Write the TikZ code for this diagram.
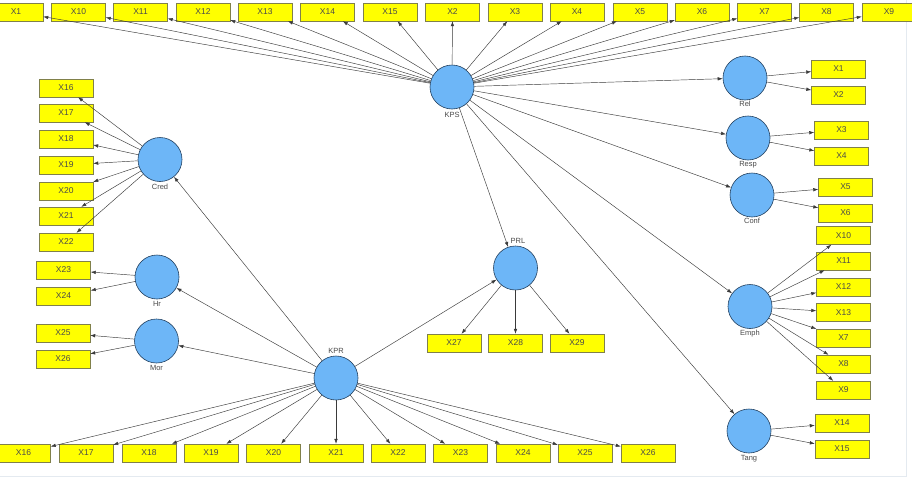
\documentclass[tikz,border=0pt]{standalone}
\usepackage{fontspec}
\setmainfont{Liberation Sans}
\usetikzlibrary{arrows.meta}
\definecolor{boxfill}{HTML}{FFFF00}
\definecolor{boxline}{HTML}{80804A}
\definecolor{circfill}{HTML}{6DB6F7}
\definecolor{circline}{HTML}{23405F}
\definecolor{txt}{HTML}{4A4A4A}
\definecolor{edge}{HTML}{3A3A3A}
\definecolor{frameline}{HTML}{E4EAF0}
\begin{document}
\begin{tikzpicture}[x=1pt,y=-1pt,
 ind/.style={draw=boxline, fill=boxfill, minimum width=54pt, minimum height=18pt, inner sep=0pt, font=\fontsize{8.5}{10}\selectfont, text=txt},
 lat/.style={circle, draw=circline, fill=circfill, minimum size=44pt, inner sep=0pt, line width=0.6pt},
 lab/.style={font=\fontsize{7.5}{9}\selectfont, text=txt, inner sep=0pt},
 arr/.style={draw=edge, line width=0.45pt, -{Latex[length=5pt,width=3.5pt]}}]
\useasboundingbox (0,0) rectangle (912,479);
\fill[white] (0,0) rectangle (912,479);
\draw[frameline, line width=0.8pt] (0,476) -- (906,476) -- (906,0);

% latent variables
\node[lat] (kps) at (452,87) {};
\node[lab] (kpsl) at (452,115) {KPS};
\node[lat] (rel) at (745,78) {};
\node[lab] (rell) at (745,104) {Rel};
\node[lat] (resp) at (748,138) {};
\node[lab] (respl) at (748,165) {Resp};
\node[lat] (conf) at (752,195) {};
\node[lab] (confl) at (752,221) {Conf};
\node[lat] (emph) at (750,306.5) {};
\node[lab] (emphl) at (750,334) {Emph};
\node[lat] (tang) at (749,431) {};
\node[lab] (tangl) at (749,459) {Tang};
\node[lat] (cred) at (160,159.5) {};
\node[lab] (credl) at (160,187) {Cred};
\node[lat] (hr) at (157,277) {};
\node[lab] (hrl) at (157,304) {Hr};
\node[lat] (mor) at (156.5,341) {};
\node[lab] (morl) at (156.5,368) {Mor};
\node[lat] (kpr) at (336,378) {};
\node[lab] (kprl) at (336,351) {KPR};
\node[lat] (prl) at (515.5,268) {};
\node[lab] (prll) at (518,241) {PRL};

% top indicators of KPS
\foreach \n/\x [count=\i] in {X1/16,X10/78.5,X11/140.5,X12/203,X13/265,X14/327.5,X15/390,X2/452.5,X3/515,X4/577,X5/640,X6/702,X7/764.5,X8/826.5,X9/889}
  \node[ind] (t\i) at (\x,12) {\n};
\foreach \i in {1,...,15} \draw[arr] (kps) -- (t\i);

% KPS to latent
\foreach \t in {rel,resp,conf,emph,tang,prl} \draw[arr] (kps) -- (\t);

% Rel, Resp, Conf
\node[ind] (rel1) at (838.5,69) {X1};
\node[ind] (rel2) at (838.5,95) {X2};
\node[ind] (resp1) at (841.5,130) {X3};
\node[ind] (resp2) at (841.5,156) {X4};
\node[ind] (conf1) at (845.5,187) {X5};
\node[ind] (conf2) at (845.5,213) {X6};
\draw[arr] (rel) -- (rel1);
\draw[arr] (rel) -- (rel2);
\draw[arr] (resp) -- (resp1);
\draw[arr] (resp) -- (resp2);
\draw[arr] (conf) -- (conf1);
\draw[arr] (conf) -- (conf2);

% Emph
\foreach \n/\y [count=\i] in {X10/235.5,X11/261,X12/287,X13/312.5,X7/338,X8/364,X9/390}
  \node[ind] (e\i) at (843.5,\y) {\n};
\foreach \i in {1,...,7} \draw[arr] (emph) -- (e\i);

% Tang
\node[ind] (tang1) at (842,423) {X14};
\node[ind] (tang2) at (842,449) {X15};
\draw[arr] (tang) -- (tang1);
\draw[arr] (tang) -- (tang2);

% Cred
\foreach \n/\y [count=\i] in {X16/88,X17/113,X18/139,X19/165,X20/191,X21/216,X22/242}
  \node[ind] (c\i) at (66,\y) {\n};
\foreach \i in {1,...,7} \draw[arr] (cred) -- (c\i);

% Hr, Mor
\node[ind] (hr1) at (63.5,270) {X23};
\node[ind] (hr2) at (63.5,296) {X24};
\node[ind] (mor1) at (63,333) {X25};
\node[ind] (mor2) at (63,359) {X26};
\draw[arr] (hr) -- (hr1);
\draw[arr] (hr) -- (hr2);
\draw[arr] (mor) -- (mor1);
\draw[arr] (mor) -- (mor2);

% KPR
\foreach \t in {cred,hr,mor,prl} \draw[arr] (kpr) -- (\t);
\foreach \n/\x [count=\i] in {X16/23.5,X17/86,X18/149,X19/211,X20/273.5,X21/336,X22/398,X23/460.5,X24/523,X25/585,X26/648}
  \node[ind] (b\i) at (\x,453) {\n};
\foreach \i in {1,...,11} \draw[arr] (kpr) -- (b\i);

% PRL
\node[ind] (p1) at (454,343) {X27};
\node[ind] (p2) at (515.5,343) {X28};
\node[ind] (p3) at (577,343) {X29};
\foreach \i in {1,2,3} \draw[arr] (prl) -- (p\i);
\end{tikzpicture}
\end{document}
